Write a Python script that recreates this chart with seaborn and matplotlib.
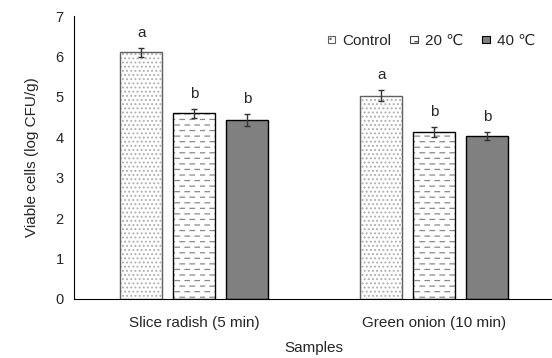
import numpy as np
import pandas as pd
import seaborn as sns
import matplotlib
matplotlib.use("Agg")
import matplotlib.pyplot as plt
import matplotlib.hatch as mhatch
from matplotlib.path import Path
from matplotlib.patches import Patch
import warnings
warnings.filterwarnings("ignore")

# ---- data ----
samples = ["Slice radish (5 min)", "Green onion (10 min)"]
treatments = ["Control", "20 \u2103", "40 \u2103"]
control_vals = [6.10, 5.03]
t20_vals = [4.59, 4.13]
t40_vals = [4.43, 4.03]
control_err = [0.10, 0.13]
t20_err = [0.10, 0.12]
t40_err = [0.14, 0.10]
letters_control = ["a", "a"]
letters_t20 = ["b", "b"]
letters_t40 = ["b", "b"]


# ---- custom dashed hatch ('_') ----
class DashHatch(mhatch.HatchPatternBase):
    def __init__(self, hatch, density):
        self.n_rows = int(hatch.count('_') * density)
        self.n_cols = 10
        self.num_lines = self.n_rows * self.n_cols
        self.num_vertices = self.num_lines * 2

    def set_vertices_and_codes(self, vertices, codes):
        ys, ystep = np.linspace(0.0, 1.0, self.n_rows, False, retstep=True)
        xs, xstep = np.linspace(0.0, 1.0, self.n_cols, False, retstep=True)
        k = 0
        for r, y in enumerate(ys):
            off = 0.0 if r % 2 == 0 else xstep / 2
            for x in xs:
                x0 = (x + off) % 1.0
                vertices[2 * k] = (x0, y + ystep / 2)
                vertices[2 * k + 1] = (min(x0 + xstep * 0.45, 1.0), y + ystep / 2)
                codes[2 * k] = Path.MOVETO
                codes[2 * k + 1] = Path.LINETO
                k += 1


mhatch._hatch_types.append(DashHatch)

sns.set_style("white")
plt.rcParams['font.family'] = ['Liberation Sans', 'DejaVu Sans']
plt.rcParams['hatch.linewidth'] = 0.9

rows = []
for i, s in enumerate(samples):
    rows.append((s, treatments[0], control_vals[i]))
    rows.append((s, treatments[1], t20_vals[i]))
    rows.append((s, treatments[2], t40_vals[i]))
df = pd.DataFrame(rows, columns=["Samples", "Treatment", "Value"])

fig = plt.figure(figsize=(5.52, 3.58), dpi=100)
ax = fig.add_axes([0.134, 0.165, 0.870, 0.79])

sns.barplot(data=df, x="Samples", y="Value", hue="Treatment", order=samples,
            hue_order=treatments, width=0.66, gap=0.21, errorbar=None,
            palette=["white", "white", "#808080"], edgecolor="black",
            linewidth=1.0, legend=False, ax=ax)

hatches = ["....", "___", ""]
edge_colors = ["#606060", "black", "black"]
hatch_colors = ["#b0b0b0", "#8a8a8a", "black"]
errs = [control_err, t20_err, t40_err]
letters = [letters_control, letters_t20, letters_t40]
bar_containers = list(ax.containers)[:3]
for j, cont in enumerate(bar_containers):
    xs = [b.get_x() + b.get_width() / 2 for b in cont]
    hs = [b.get_height() for b in cont]
    for b in cont:
        b.set_edgecolor(edge_colors[j])
        b.set_hatch(hatches[j])
        b._hatch_color = matplotlib.colors.to_rgba(hatch_colors[j])
    ax.errorbar(xs, hs, yerr=errs[j], fmt="none", ecolor="#333333",
                elinewidth=1.0, capsize=2.5, capthick=1.0)
    for x, h, e, l in zip(xs, hs, errs[j], letters[j]):
        ax.text(x, h + e + 0.2, l, ha="center", va="bottom", fontsize=11)

ax.set_ylim(0, 7)
ax.set_xlim(-0.5, 1.5)
ax.set_yticks(range(0, 8))
ax.set_xticks([0, 1])
ax.set_xticklabels(samples, fontsize=11)
ax.set_xticks([0.5], minor=True)
ax.tick_params(axis="x", which="major", length=0, pad=12)
ax.tick_params(axis="x", which="minor", direction="in", length=4, width=0.8, color="black")
ax.tick_params(axis="y", direction="out", length=4, width=0.8, labelsize=10.5, color="black", pad=3.5)
for s in ["top", "right"]:
    ax.spines[s].set_visible(False)
for s in ["left", "bottom"]:
    ax.spines[s].set_color("black")
    ax.spines[s].set_linewidth(0.8)
ax.set_xlabel("Samples", fontsize=11, labelpad=8)
ax.set_ylabel("Viable cells (log CFU/g)", fontsize=11, labelpad=12)

handles = [Patch(facecolor=fc, edgecolor=ec, hatch=h, label=t, linewidth=0.8)
           for fc, ec, h, t in zip(["white", "white", "#808080"],
                                   ["#606060", "#404040", "black"],
                                   ["...", "_", ""], treatments)]
leg = ax.legend(handles=handles, loc="upper left", bbox_to_anchor=(0.50, 0.985),
                ncol=3, frameon=False, fontsize=11, handlelength=0.5,
                handleheight=0.36, handletextpad=0.45, columnspacing=1.25)

fig.savefig("out.png", dpi=100)
